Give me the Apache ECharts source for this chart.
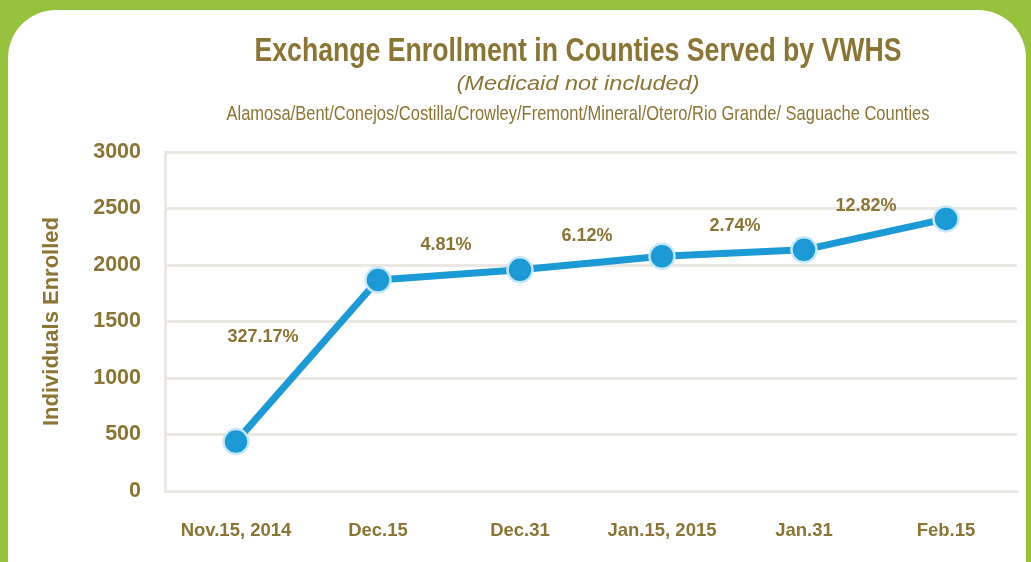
<!DOCTYPE html>
<html>
<head>
<meta charset="utf-8">
<script src="https://cdn.jsdelivr.net/npm/echarts@6/dist/echarts.min.js"></script>
<style>
  html, body { margin: 0; padding: 0; width: 1031px; height: 562px; overflow: hidden; background: #97c23d; }
  #panel { position: absolute; left: 8px; top: 10px; width: 1018px; height: 600px; background: #ffffff; border-radius: 48px; }
  #chart { position: absolute; left: 0; top: 0; width: 1031px; height: 562px; }
</style>
</head>
<body>
<div id="panel"></div>
<div id="chart"></div>
<script>
// ---- data ----
const categories = ['Nov.15, 2014', 'Dec.15', 'Dec.31', 'Jan.15, 2015', 'Jan.31', 'Feb.15'];
const enrolled = [437, 1867, 1957, 2077, 2134, 2408];
const growthLabels = ['327.17%', '4.81%', '6.12%', '2.74%', '12.82%'];
const yTicks = [0, 500, 1000, 1500, 2000, 2500, 3000];
const titleText = 'Exchange Enrollment in Counties Served by VWHS';
const subText = '(Medicaid not included)';
const countiesText = 'Alamosa/Bent/Conejos/Costilla/Crowley/Fremont/Mineral/Otero/Rio Grande/ Saguache Counties';
const yAxisName = 'Individuals Enrolled';

// ---- styles ----
const olive = '#8b7534';
const sans = '"Liberation Sans", Arial, sans-serif';
const labelOffsets = [[-44, -24], [-3, -30], [-4, -27], [2, -27], [-9, -28]];

// fit a heading to the width it has in the original layout
const measureCtx = document.createElement('canvas').getContext('2d');
function heading(text, font, y, targetWidth) {
  measureCtx.font = font;
  const w = measureCtx.measureText(text).width;
  return {
    type: 'text', x: 578, y: y, scaleX: targetWidth / w, silent: true,
    style: { text: text, font: font, fill: olive, align: 'center', verticalAlign: 'middle' }
  };
}

// growth labels sit between neighbouring points
const growthPoints = growthLabels.map((t, i) => ({
  value: [i + 1, (enrolled[i] + enrolled[i + 1]) / 2],
  label: { offset: labelOffsets[i] }
}));

const chart = echarts.init(document.getElementById('chart'), null, { renderer: 'canvas' });
chart.setOption({
  backgroundColor: 'transparent',
  animation: false,
  graphic: [
    heading(titleText, 'bold 33px "Liberation Sans", Arial, sans-serif', 52, 647),
    heading(subText, 'italic 20px "Liberation Sans", Arial, sans-serif', 84, 243),
    heading(countiesText, '21px "Liberation Sans", Arial, sans-serif', 114, 703)
  ],
  grid: { left: 165, right: 14, top: 152, bottom: 71 },
  xAxis: [
    {
      type: 'category', data: categories, boundaryGap: true,
      axisLine: { show: true, lineStyle: { color: '#ebe7e3', width: 3 } },
      axisTick: { show: false },
      axisLabel: { interval: 0, color: olive, fontFamily: sans, fontWeight: 'bold', fontSize: 18.5, margin: 30 }
    },
    { type: 'value', min: 0, max: categories.length, show: false }
  ],
  yAxis: {
    type: 'value', min: yTicks[0], max: yTicks[yTicks.length - 1], interval: yTicks[1] - yTicks[0],
    name: yAxisName, nameLocation: 'middle', nameGap: 102, nameRotate: 90,
    nameTextStyle: { color: olive, fontFamily: sans, fontWeight: 'bold', fontSize: 22 },
    axisLine: { show: true, lineStyle: { color: '#ebe7e3', width: 3 } },
    axisTick: { show: false },
    splitLine: { show: true, lineStyle: { color: '#ebe7e3', width: 3 } },
    axisLabel: { color: olive, fontFamily: sans, fontWeight: 'bold', fontSize: 21.5, margin: 24,
      formatter: v => String(v) }
  },
  series: [
    {
      type: 'line', xAxisIndex: 0, data: enrolled,
      lineStyle: { color: '#1b9ad6', width: 7 },
      symbol: 'circle', symbolSize: 25,
      itemStyle: { color: '#1b9ad6', borderColor: '#c9e8f7', borderWidth: 2.5 },
      z: 3
    },
    {
      type: 'scatter', xAxisIndex: 1, data: growthPoints,
      symbolSize: 0, silent: true,
      itemStyle: { opacity: 1 },
      label: {
        show: true, position: 'inside', opacity: 1,
        formatter: p => growthLabels[p.dataIndex],
        color: olive, fontFamily: sans, fontWeight: 'bold', fontSize: 18
      },
      z: 4
    }
  ]
});
</script>
</body>
</html>
